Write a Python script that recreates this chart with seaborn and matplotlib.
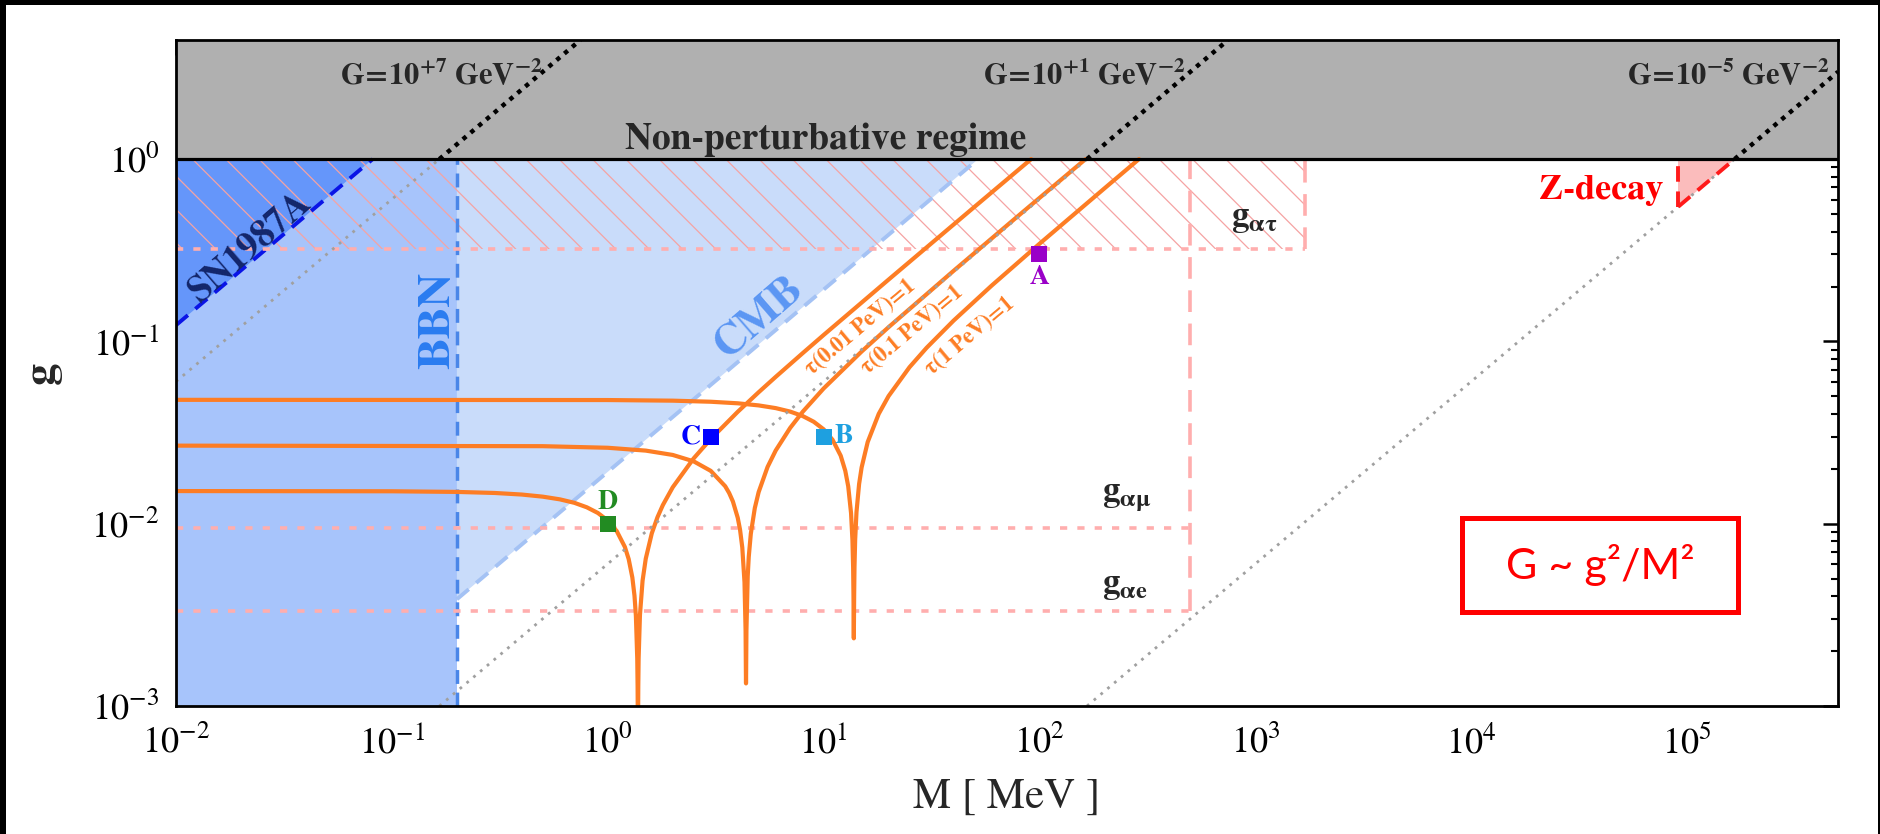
import matplotlib
matplotlib.use("Agg")
import matplotlib.pyplot as plt
import seaborn as sns
from matplotlib.patches import Rectangle
from matplotlib.ticker import LogLocator, NullFormatter, LogFormatterSciNotation

# ---------------- data ----------------
M_RANGE = [1e-2, 5e5]          # MeV
G_RANGE = [1e-3, 4.5]

tau_labels = ["τ(0.01 PeV)=1", "τ(0.1 PeV)=1", "τ(1 PeV)=1"]

tau1_M = [0.01, 0.1, 0.2, 0.3, 0.4, 0.5, 0.6, 0.7, 0.8, 0.9, 1.0, 1.1, 1.2, 1.25, 1.3, 1.33,
          1.35, 1.37, 1.375, 1.378, 1.380, 1.382, 1.385, 1.39, 1.41, 1.45, 1.5, 1.6, 1.7, 1.8,
          2.0, 2.5, 3.0, 4.0, 5.0, 6.0, 8.0, 10.0, 20.0, 50.0, 91.5]
tau1_g = [0.0151, 0.01506, 0.01494, 0.01474, 0.01445, 0.01407, 0.0136, 0.01302, 0.0123,
          0.01145, 0.01041, 0.00912, 0.00746, 0.0064, 0.00507, 0.00403, 0.00313, 0.00181,
          0.00128, 0.00081, 0.00075, 0.00081, 0.00128, 0.00182, 0.00316, 0.00487, 0.00643,
          0.00886, 0.01086, 0.01265, 0.01584, 0.02281, 0.02915, 0.04108, 0.0526, 0.0639,
          0.0862, 0.1084, 0.2183, 0.547, 1.0]

tau2_M = [0.01, 0.5, 1.0, 1.5, 2.0, 2.5, 3.0, 3.5, 3.65, 3.8, 4.0, 4.1, 4.2, 4.3, 4.35, 4.365,
          4.37, 4.375, 4.39, 4.45, 4.5, 4.6, 4.8, 5.0, 5.5, 6.0, 7.0, 8.0, 10.0, 15.0, 20.0,
          40.0, 80.0, 163.5]
tau2_g = [0.0268, 0.02662, 0.02609, 0.02517, 0.02383, 0.02198, 0.01949, 0.01605, 0.01474,
          0.01324, 0.01079, 0.00928, 0.0074, 0.00478, 0.0026, 0.0015, 0.00133, 0.0015,
          0.0026, 0.00515, 0.00658, 0.00881, 0.01218, 0.0149, 0.02048, 0.02522, 0.03354,
          0.0411, 0.05516, 0.088, 0.1197, 0.2438, 0.4899, 1.0]

tau3_M = [0.01, 1.0, 2.0, 3.0, 4.0, 5.0, 6.0, 7.0, 8.0, 9.0, 10.0, 11.0, 12.0, 12.6, 13.0,
          13.4, 13.6, 13.7, 13.75, 13.78, 13.8, 13.82, 13.85, 13.9, 14.0, 14.2, 14.6, 15.0,
          16.0, 18.0, 20.0, 25.0, 30.0, 40.0, 60.0, 100.0, 200.0, 289.0]
tau3_g = [0.0478, 0.04767, 0.0473, 0.04666, 0.04575, 0.04455, 0.04305, 0.0412, 0.03895,
          0.03624, 0.03294, 0.02886, 0.0236, 0.0195, 0.01604, 0.01142, 0.00811, 0.00574,
          0.00406, 0.0029, 0.00235, 0.0029, 0.00406, 0.00577, 0.00817, 0.01159, 0.01651,
          0.02036, 0.02804, 0.04003, 0.05014, 0.0722, 0.09225, 0.13, 0.2022, 0.3431, 0.691,
          1.0]

# G = const contours (slope-1 lines); below g=1 grey, above black
G_labels = [r"$\mathbf{G\!=\!10^{+7}\ GeV^{-2}}$", r"$\mathbf{G\!=\!10^{+1}\ GeV^{-2}}$",
            r"$\mathbf{G\!=\!10^{-5}\ GeV^{-2}}$"]
G_lower_M = [[0.01, 0.166], [0.166, 166.0], [166.0, 1.66e5]]
G_lower_g = [[0.0602, 1.0], [0.001, 1.0], [0.001, 1.0]]
G_upper_M = [[0.166, 0.747], [166.0, 747.0], [1.66e5, 5e5]]
G_upper_g = [[1.0, 4.5], [1.0, 4.5], [1.0, 3.01]]

g_pert = 1.0
bbn_M = 0.2
cmb_M = [0.2, 52.0]
cmb_g = [0.00385, 1.0]
sn_M = [0.01, 0.0815]
sn_g = [0.1227, 1.0]
g_atau, g_atau_Mmax = 0.32, 1700.0
g_amu, g_ae, g_amue_Mmax = 0.0095, 0.0033, 500.0
zdec_M = [9.1e4, 1.66e5]
zdec_g = [0.548, 1.0]

bench_names = ["A", "B", "C", "D"]
bench_M = [100.0, 10.0, 3.0, 1.0]
bench_g = [0.3, 0.03, 0.03, 0.01]
bench_colors = ["#9a00c8", "#1ea0e0", "#0000ff", "#228b22"]

# ---------------- style ----------------
sns.set_theme(style="white")
plt.rcParams["font.family"] = ["STIXGeneral", "DejaVu Serif"]
plt.rcParams["mathtext.fontset"] = "stix"
plt.rcParams["hatch.linewidth"] = 0.9
plt.rcParams["hatch.color"] = "#f5a3a3"

W, H = 1881, 834
fig = plt.figure(figsize=(W / 100, H / 100), dpi=100)
ax = fig.add_axes([176 / W, 1 - 706 / H, (1838 - 176) / W, (706 - 40) / H])
ax.set_xscale("log")
ax.set_yscale("log")
ax.set_xlim(*M_RANGE)
ax.set_ylim(*G_RANGE)

GRAY = "#b0b0b0"
ORANGE = "#fd7d24"
PINK = "#ffaeae"

# blue constraint regions
ax.fill_between([M_RANGE[0], bbn_M], G_RANGE[0], g_pert, color="#a7c4fb", lw=0, zorder=1)
ax.fill([cmb_M[0], cmb_M[1], cmb_M[0]], [cmb_g[0], cmb_g[1], g_pert],
        color="#c9dcfa", lw=0, zorder=1)
ax.fill([sn_M[0], sn_M[1], sn_M[0]], [sn_g[0], sn_g[1], g_pert],
        color="#6596fa", lw=0, zorder=1.1)

# g_alpha_tau hatched region
ax.fill_between([M_RANGE[0], g_atau_Mmax], g_atau, g_pert, facecolor="none",
                edgecolor="#f5a3a3", hatch="\\", lw=0, zorder=1.5)

# non-perturbative
ax.fill_between(M_RANGE, g_pert, G_RANGE[1], color=GRAY, lw=0, zorder=2)

# boundary lines
ax.plot([bbn_M, bbn_M], [G_RANGE[0], g_pert], color="#4a86e8", lw=2.5,
        ls=(0, (4, 2.5)), zorder=3)
ax.plot(cmb_M, cmb_g, color="#a4c2f4", lw=2.8, ls=(0, (4, 2.5)), zorder=3)
ax.plot(sn_M, sn_g, color="#0a14e6", lw=2.8, ls=(0, (4, 2.5)), zorder=3)

pink_short = (0, (2.0, 2.8))
pink_long = (0, (6.0, 3.2))
ax.plot([M_RANGE[0], g_atau_Mmax], [g_atau, g_atau], color=PINK, lw=2.6, ls=pink_short, zorder=3)
ax.plot([g_atau_Mmax, g_atau_Mmax], [g_atau, g_pert], color=PINK, lw=2.6, ls=pink_long, zorder=3)
ax.plot([M_RANGE[0], g_amue_Mmax], [g_amu, g_amu], color=PINK, lw=2.6, ls=pink_short, zorder=3)
ax.plot([M_RANGE[0], g_amue_Mmax], [g_ae, g_ae], color=PINK, lw=2.6, ls=pink_short, zorder=3)
ax.plot([g_amue_Mmax, g_amue_Mmax], [g_ae, g_pert], color=PINK, lw=2.6, ls=pink_long, zorder=3)

# Z-decay
ax.fill([zdec_M[0], zdec_M[0], zdec_M[1]], [zdec_g[0], zdec_g[1], zdec_g[1]],
        color="#fbbcbc", lw=0, zorder=3)
ax.plot([zdec_M[0], zdec_M[0]], [zdec_g[0], g_pert], color="#ff1a1a", lw=2.8,
        ls=(0, (4, 2.5)), zorder=5)
ax.plot(zdec_M, zdec_g, color="#ff1a1a", lw=2.8, ls=(0, (4, 2.5)), zorder=5)

# orange tau curves
for xs, ys in [(tau1_M, tau1_g), (tau2_M, tau2_g), (tau3_M, tau3_g)]:
    sns.lineplot(x=xs, y=ys, ax=ax, color=ORANGE, lw=3.0, sort=False,
                 estimator=None, zorder=4)

# G contours
for xs, ys in zip(G_lower_M, G_lower_g):
    sns.lineplot(x=xs, y=ys, ax=ax, color="#a0a0a0", lw=2.0, ls=(0, (1, 2.2)),
                 sort=False, estimator=None, zorder=4.5)
for xs, ys in zip(G_upper_M, G_upper_g):
    sns.lineplot(x=xs, y=ys, ax=ax, color="black", lw=3.2, ls=(0, (1, 1.3)),
                 sort=False, estimator=None, zorder=4.5)

ax.axhline(g_pert, color="black", lw=2.3, zorder=5)

# benchmark points
for name, m, g, c in zip(bench_names, bench_M, bench_g, bench_colors):
    sns.scatterplot(x=[m], y=[g], ax=ax, color=c, marker="s", s=135, lw=0, zorder=6)

tb = dict(fontweight="bold", fontsize=20, zorder=7)
ax.text(100, 0.223, "A", color=bench_colors[0], ha="center", va="center", **tb)
ax.text(12.45, 0.03, "B", color=bench_colors[1], ha="center", va="center", **tb)
ax.text(2.42, 0.03, "C", color=bench_colors[2], ha="center", va="center", **tb)
ax.text(1.0, 0.0131, "D", color=bench_colors[3], ha="center", va="center", **tb)

# texts
ax.text(10.2, 1.13, "Non-perturbative regime", fontsize=27, fontweight="bold",
        ha="center", va="baseline", zorder=7)
for lab, mx in zip(G_labels, [0.17, 162.0, 1.55e5]):
    ax.text(mx, 2.55, lab, fontsize=22, ha="center", va="baseline", zorder=7)

ax.text(0.0222, 0.325, "SN1987A", fontsize=27, fontweight="bold", color="#13266b",
        rotation=41, ha="center", va="center", rotation_mode="anchor", zorder=7)
ax.text(0.165, 0.131, "BBN", fontsize=34, fontweight="bold", color="#2a7cf0",
        rotation=90, ha="center", va="center", zorder=7)
ax.text(5.06, 0.135, "CMB", fontsize=32, fontweight="bold", color="#5b96f3",
        rotation=41, ha="center", va="center", rotation_mode="anchor", zorder=7)
for lab, mx, gy in zip(tau_labels, [14.8, 25.7, 47.6], [0.1186, 0.1158, 0.106]):
    ax.text(mx, gy, lab, fontsize=16, fontweight="bold", color=ORANGE, rotation=40,
            ha="center", va="center", rotation_mode="anchor", zorder=7)

ax.text(989, 0.471, r"$\mathbf{g_{\alpha\tau}}$", fontsize=25, ha="center", va="center", zorder=7)
ax.text(255, 0.01386, r"$\mathbf{g_{\alpha\mu}}$", fontsize=25, ha="center", va="center", zorder=7)
ax.text(250, 0.00456, r"$\mathbf{g_{\alpha e}}$", fontsize=25, ha="center", va="center", zorder=7)
ax.text(7.74e4, 0.676, "Z-decay", fontsize=26, fontweight="bold", color="#ff0000",
        ha="right", va="center", zorder=7)

# red formula box
ax.add_patch(Rectangle((0.7738, 0.1411), 0.166, 0.1411, transform=ax.transAxes,
                       fill=True, fc="white", ec="#ff0000", lw=3.6, zorder=8))
ax.text(0.857, 0.2117, "G ~ g²/M²", transform=ax.transAxes, fontsize=31,
        family=["Lato", "DejaVu Sans"], color="#ff0000", ha="center", va="center", zorder=9)

# axes styling
ax.set_xlabel("M [ MeV ]", fontsize=31, labelpad=12)
ax.set_ylabel("g", fontsize=32, fontweight="bold")
ax.yaxis.set_label_coords(-0.069, 0.5)
ax.xaxis.set_major_locator(LogLocator(base=10, numticks=20))
ax.xaxis.set_minor_locator(LogLocator(base=10, subs=range(2, 10), numticks=20))
ax.yaxis.set_major_locator(LogLocator(base=10, numticks=20))
ax.yaxis.set_minor_locator(LogLocator(base=10, subs=range(2, 10), numticks=20))
ax.xaxis.set_major_formatter(LogFormatterSciNotation())
ax.yaxis.set_major_formatter(LogFormatterSciNotation())
ax.xaxis.set_minor_formatter(NullFormatter())
ax.yaxis.set_minor_formatter(NullFormatter())
ax.tick_params(which="both", direction="in", top=True, right=True, colors="black")
ax.tick_params(which="major", length=10.8, width=1.8, labelsize=26)
ax.tick_params(axis="x", which="major", pad=14)
ax.tick_params(axis="y", which="major", pad=12)
ax.tick_params(which="minor", length=5, width=1.5)
for sp in ax.spines.values():
    sp.set_color("black")
    sp.set_linewidth(2.0)
    sp.set_zorder(10)

# black frame of the picture
for r in [(0, 0, 6 / W, 1), (0, 1 - 5 / H, 1, 5 / H), (1 - 3 / W, 0, 3 / W, 1)]:
    fig.add_artist(Rectangle(r[:2], r[2], r[3], transform=fig.transFigure,
                             color="black", lw=0, zorder=20))

fig.savefig("out.png", dpi=100)
